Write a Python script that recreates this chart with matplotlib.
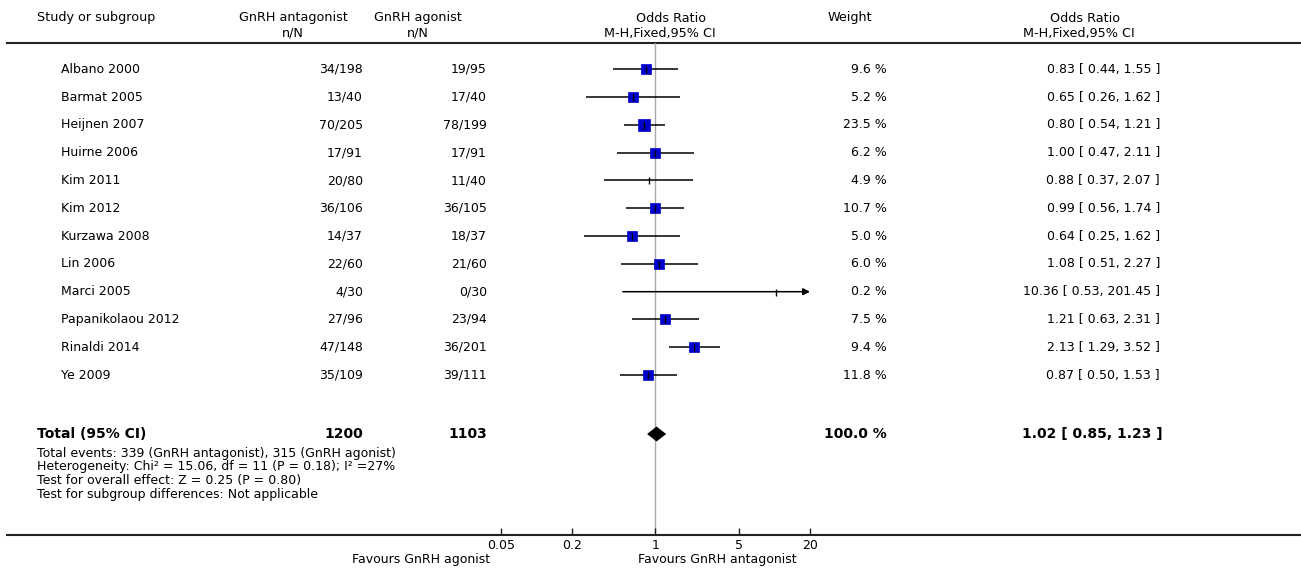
import matplotlib
matplotlib.use("Agg")
import matplotlib.pyplot as plt
from matplotlib.ticker import FixedLocator, FixedFormatter, NullLocator

# Study data
studies = ["Albano 2000", "Barmat 2005", "Heijnen 2007", "Huirne 2006", "Kim 2011",
           "Kim 2012", "Kurzawa 2008", "Lin 2006", "Marci 2005", "Papanikolaou 2012",
           "Rinaldi 2014", "Ye 2009"]
ant_events = [34, 13, 70, 17, 20, 36, 14, 22, 4, 27, 47, 35]
ant_total = [198, 40, 205, 91, 80, 106, 37, 60, 30, 96, 148, 109]
ago_events = [19, 17, 78, 17, 11, 36, 18, 21, 0, 23, 36, 39]
ago_total = [95, 40, 199, 91, 40, 105, 37, 60, 30, 94, 201, 111]
weights = [9.6, 5.2, 23.5, 6.2, 4.9, 10.7, 5.0, 6.0, 0.2, 7.5, 9.4, 11.8]
odds = [0.83, 0.65, 0.80, 1.00, 0.88, 0.99, 0.64, 1.08, 10.36, 1.21, 2.13, 0.87]
ci_low = [0.44, 0.26, 0.54, 0.47, 0.37, 0.56, 0.25, 0.51, 0.53, 0.63, 1.29, 0.50]
ci_high = [1.55, 1.62, 1.21, 2.11, 2.07, 1.74, 1.62, 2.27, 201.45, 2.31, 3.52, 1.53]

total_ant = 1200
total_ago = 1103
total_weight = 100.0
total_or = 1.02
total_low = 0.85
total_high = 1.23

footnotes = [
    "Total events: 339 (GnRH antagonist), 315 (GnRH agonist)",
    "Heterogeneity: Chi² = 15.06, df = 11 (P = 0.18); I² =27%",
    "Test for overall effect: Z = 0.25 (P = 0.80)",
    "Test for subgroup differences: Not applicable",
]

ticks = [0.05, 0.2, 1, 5, 20]
tick_labels = ["0.05", "0.2", "1", "5", "20"]
x_min, x_max = 0.05, 20

plt.rcParams['font.family'] = ['DejaVu Sans']

W, H = 1301, 570
fig = plt.figure(figsize=(W / 100, H / 100), dpi=100)

# full-figure axes in pixel units for the table text
ax = fig.add_axes([0, 0, 1, 1])
ax.set_xlim(0, W)
ax.set_ylim(H, 0)
ax.axis('off')

top_line, bottom_line = 43, 535
fx0, fx1 = 501, 810
fax = fig.add_axes([fx0 / W, (H - bottom_line) / H, (fx1 - fx0) / W,
                    (bottom_line - top_line) / H])
fax.set_xscale('log')
fax.set_xlim(x_min, x_max)
fax.set_ylim(bottom_line, top_line)
fax.patch.set_visible(False)
for s in fax.spines.values():
    s.set_visible(False)
fax.xaxis.set_major_locator(FixedLocator(ticks))
fax.xaxis.set_major_formatter(FixedFormatter(tick_labels))
fax.xaxis.set_minor_locator(NullLocator())
fax.tick_params(axis='x', direction='in', length=5, width=1, pad=3,
                labelsize=9, color='#222222')
fax.set_yticks([])

fs = 9
# header
ax.text(37, 18, "Study or subgroup", fontsize=9.2, va='center', ha='left')
ax.text(293, 18, "GnRH antagonist", fontsize=9.2, va='center', ha='center')
ax.text(293, 33, "n/N", fontsize=9.2, va='center', ha='center')
ax.text(418, 18, "GnRH agonist", fontsize=9.2, va='center', ha='center')
ax.text(418, 33, "n/N", fontsize=9.2, va='center', ha='center')
ax.text(671, 18, "Odds Ratio", fontsize=9.2, va='center', ha='center')
ax.text(660, 33, "M-H,Fixed,95% CI", fontsize=9.2, va='center', ha='center')
ax.text(850, 18, "Weight", fontsize=9.2, va='center', ha='center')
ax.text(1085, 18, "Odds Ratio", fontsize=9.2, va='center', ha='center')
ax.text(1079, 33, "M-H,Fixed,95% CI", fontsize=9.2, va='center', ha='center')

ax.plot([7, W], [top_line, top_line], color='#222222', lw=1.5)
ax.plot([7, W], [bottom_line, bottom_line], color='#222222', lw=1.5)

fax.axvline(1, color='#a8a8a8', lw=1, zorder=1)

row0, step = 69.3, 27.8
for i, name in enumerate(studies):
    y = row0 + i * step
    ax.text(61, y, name, fontsize=fs, va='center', ha='left')
    ax.text(363, y, f"{ant_events[i]}/{ant_total[i]}", fontsize=fs, va='center', ha='right')
    ax.text(487, y, f"{ago_events[i]}/{ago_total[i]}", fontsize=fs, va='center', ha='right')
    ax.text(887, y, f"{weights[i]:.1f} %", fontsize=fs, va='center', ha='right')
    ax.text(1160, y, f"{odds[i]:.2f} [ {ci_low[i]:.2f}, {ci_high[i]:.2f} ]",
            fontsize=fs, va='center', ha='right')

    lo = max(ci_low[i], x_min)
    hi = ci_high[i]
    if hi > x_max:
        fax.annotate('', xy=(x_max, y), xytext=(lo, y),
                     arrowprops=dict(arrowstyle='-|>', color='black', lw=1.1,
                                     mutation_scale=10, shrinkA=0, shrinkB=0),
                     zorder=3)
    else:
        fax.plot([lo, hi], [y, y], color='black', lw=1.1, solid_capstyle='butt', zorder=3)
    if weights[i] >= 5:
        side = 8.5 + 0.16 * weights[i]
        fax.plot([odds[i]], [y], marker='s', ms=side * 0.72, color='#0000cc',
                 mec='#0000cc', mew=0.5, ls='none', zorder=4)
    fax.plot([odds[i]], [y], marker='|', ms=7 * 0.72, color='black', mew=1.0,
             ls='none', zorder=5)

# total row
yt = 434
ax.text(37, yt, "Total (95% CI)", fontsize=10, fontweight='bold', va='center', ha='left')
ax.text(363, yt, f"{total_ant}", fontsize=10, fontweight='bold', va='center', ha='right')
ax.text(487, yt, f"{total_ago}", fontsize=10, fontweight='bold', va='center', ha='right')
ax.text(887, yt, f"{total_weight:.1f} %", fontsize=10, fontweight='bold', va='center', ha='right')
ax.text(1163, yt, f"{total_or:.2f} [ {total_low:.2f}, {total_high:.2f} ]",
        fontsize=10, fontweight='bold', va='center', ha='right')
half_h = 7.5
fax.fill([total_low, total_or, total_high, total_or],
         [yt, yt - half_h, yt, yt + half_h], color='black', lw=0, zorder=4)

for j, line in enumerate(footnotes):
    ax.text(37, 453 + j * 13.7, line, fontsize=9, va='center', ha='left')

ax.text(490, 560, "Favours GnRH agonist", fontsize=9, va='center', ha='right')
ax.text(638, 560, "Favours GnRH antagonist", fontsize=9, va='center', ha='left')

fig.savefig("out.png", dpi=100)
